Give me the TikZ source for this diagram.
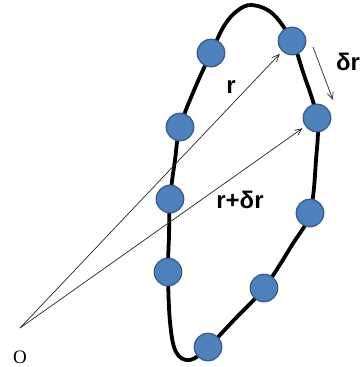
\documentclass[tikz,border=0pt]{standalone}
\usepackage{fontspec}
\setmainfont{Liberation Serif}
\newfontfamily\labfont{Liberation Sans}
\usetikzlibrary{arrows.meta}
\definecolor{beadfill}{RGB}{79,129,189}
\definecolor{beadedge}{RGB}{56,93,138}
\begin{document}
\begin{tikzpicture}[x=1pt,y=-1pt,
  bead/.style={circle,draw=beadedge,fill=beadfill,line width=1.3pt,minimum size=27.5pt,inner sep=0pt,outer sep=0pt},
  vec/.style={-{Straight Barb[length=7pt,width=6pt]},line width=0.7pt,draw=black!85},
  lbl/.style={font=\labfont\bfseries\fontsize{24}{28}\selectfont,inner sep=0pt},
  loop/.style={line width=3.8pt,line join=round}]
\useasboundingbox (0,0) rectangle (359,367);
% closed curve
\draw[loop] plot[smooth cycle,tension=0.6] coordinates {
  (252,5) (273,14) (292,41) (303,72) (317,118) (316,160) (310,213)
  (292,245) (264,288) (234,320) (208,347) (190,360) (176,352)
  (170,322) (168,272) (169,235) (170,199) (175,160) (180,127)
  (195,88) (211,53) (224,26) (237,11)};
% beads
\node[bead] (b1) at (211,53) {};
\node[bead] (b2) at (292,41) {};
\node[bead] (b3) at (180,127) {};
\node[bead] (b4) at (317,118) {};
\node[bead] (b5) at (170,199) {};
\node[bead] (b6) at (310,213) {};
\node[bead] (b7) at (168,272) {};
\node[bead] (b8) at (264,288) {};
\node[bead] (b9) at (208,347) {};
% origin
\coordinate (O) at (20,328);
\node[font=\fontsize{19}{22}\selectfont,inner sep=0pt] (Olab) at (20,357) {O};
% vectors
\draw[vec,shorten >=4pt] (O) -- (b2);
\draw[vec,shorten >=4pt] (O) -- (b4);
\coordinate (ds) at (313,47);
\coordinate (de) at (333,100);
\draw[vec] (ds) -- (de);
% labels
\node[lbl] (lr) at (231,87) {r};
\node[lbl] (lrdr) at (240,200) {r+δr};
\node[lbl,anchor=west] (ldr) at (336,62) {δr};
\end{tikzpicture}
\end{document}
